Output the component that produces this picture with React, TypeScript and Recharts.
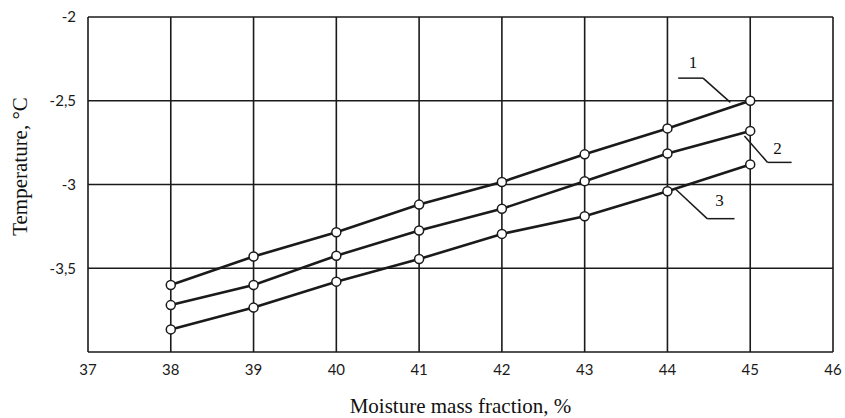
import { CartesianGrid, Line, LineChart, ReferenceDot, ReferenceLine, XAxis, YAxis } from "recharts";

const moisture = [38, 39, 40, 41, 42, 43, 44, 45];
const curve1 = [-3.6, -3.43, -3.285, -3.12, -2.985, -2.82, -2.665, -2.5];
const curve2 = [-3.72, -3.6, -3.425, -3.275, -3.145, -2.98, -2.815, -2.68];
const curve3 = [-3.865, -3.735, -3.58, -3.445, -3.295, -3.19, -3.04, -2.88];

const xTicks = [37, 38, 39, 40, 41, 42, 43, 44, 45, 46];
const yTicks = [-4, -3.5, -3, -2.5, -2];

// curve number labels with their leader lines (data coordinates)
const labels = [
  { text: "1", at: [44.31, -2.27], leader: [[44.13, -2.365], [44.43, -2.365], [44.76, -2.51]] },
  { text: "2", at: [45.33, -2.78], leader: [[44.93, -2.71], [45.21, -2.868], [45.5, -2.868]] },
  { text: "3", at: [44.63, -3.09], leader: [[44.09, -3.024], [44.48, -3.204], [44.81, -3.204]] },
];

const rows = moisture.map((m, i) => ({ m, c1: curve1[i], c2: curve2[i], c3: curve3[i] }));

const INK = "#1a1a1a";
const serif = "'Liberation Serif', 'DejaVu Serif', serif";
const tickFont = { fontFamily: "Lato, sans-serif", fontSize: 15, fill: "#1a1a1a" };

const fmtY = (v: number) => (v === -4 ? "" : String(v).replace(".", ","));

const dot = { r: 4.5, fill: "#fff", stroke: INK, strokeWidth: 1.5 };

const XTitle = (props: any) => {
  const vb = props.viewBox;
  return (
    <text x={vb.x + vb.width / 2} y={413} textAnchor="middle" fontFamily={serif} fontSize={21} fill="#111">
      Moisture mass fraction, %
    </text>
  );
};

const YTitle = (props: any) => {
  const vb = props.viewBox;
  const cx = 27;
  const cy = vb.y + vb.height / 2 - 18;
  return (
    <text x={cx} y={cy} transform={`rotate(-90, ${cx}, ${cy})`} textAnchor="middle" fontFamily={serif} fontSize={21} fill="#111">
      Temperature, °C
    </text>
  );
};

export default function App() {
  return (
    <div style={{ position: "absolute", left: 0, top: 0, background: "#fff" }}>
      <LineChart width={845} height={418} data={rows} margin={{ top: 17, right: 12, bottom: 0, left: 0 }}>
        <CartesianGrid stroke={INK} strokeWidth={1.6} horizontalValues={yTicks} verticalValues={xTicks} />
        <XAxis
          dataKey="m"
          type="number"
          domain={[37, 46]}
          ticks={xTicks}
          height={66}
          axisLine={false}
          tickLine={false}
          tick={tickFont}
          tickMargin={6}
          label={<XTitle />}
        />
        <YAxis
          type="number"
          domain={[-4, -2]}
          ticks={yTicks}
          width={88}
          axisLine={false}
          tickLine={false}
          tick={tickFont}
          tickFormatter={fmtY}
          tickMargin={6}
          label={<YTitle />}
        />
        {labels.map((lb) =>
          lb.leader.slice(1).map((p, j) => (
            <ReferenceLine
              key={lb.text + j}
              segment={[
                { x: lb.leader[j][0], y: lb.leader[j][1] },
                { x: p[0], y: p[1] },
              ]}
              stroke={INK}
              strokeWidth={1.5}
              ifOverflow="visible"
            />
          ))
        )}
        {labels.map((lb) => (
          <ReferenceDot
            key={"t" + lb.text}
            x={lb.at[0]}
            y={lb.at[1]}
            r={1}
            fill="none"
            stroke="none"
            label={{ value: lb.text, position: "center", style: { fontFamily: serif, fontSize: 17, fill: "#111" } }}
          />
        ))}
        <Line dataKey="c1" stroke={INK} strokeWidth={2.6} dot={dot} isAnimationActive={false} />
        <Line dataKey="c2" stroke={INK} strokeWidth={2.6} dot={dot} isAnimationActive={false} />
        <Line dataKey="c3" stroke={INK} strokeWidth={2.6} dot={dot} isAnimationActive={false} />
      </LineChart>
    </div>
  );
}
